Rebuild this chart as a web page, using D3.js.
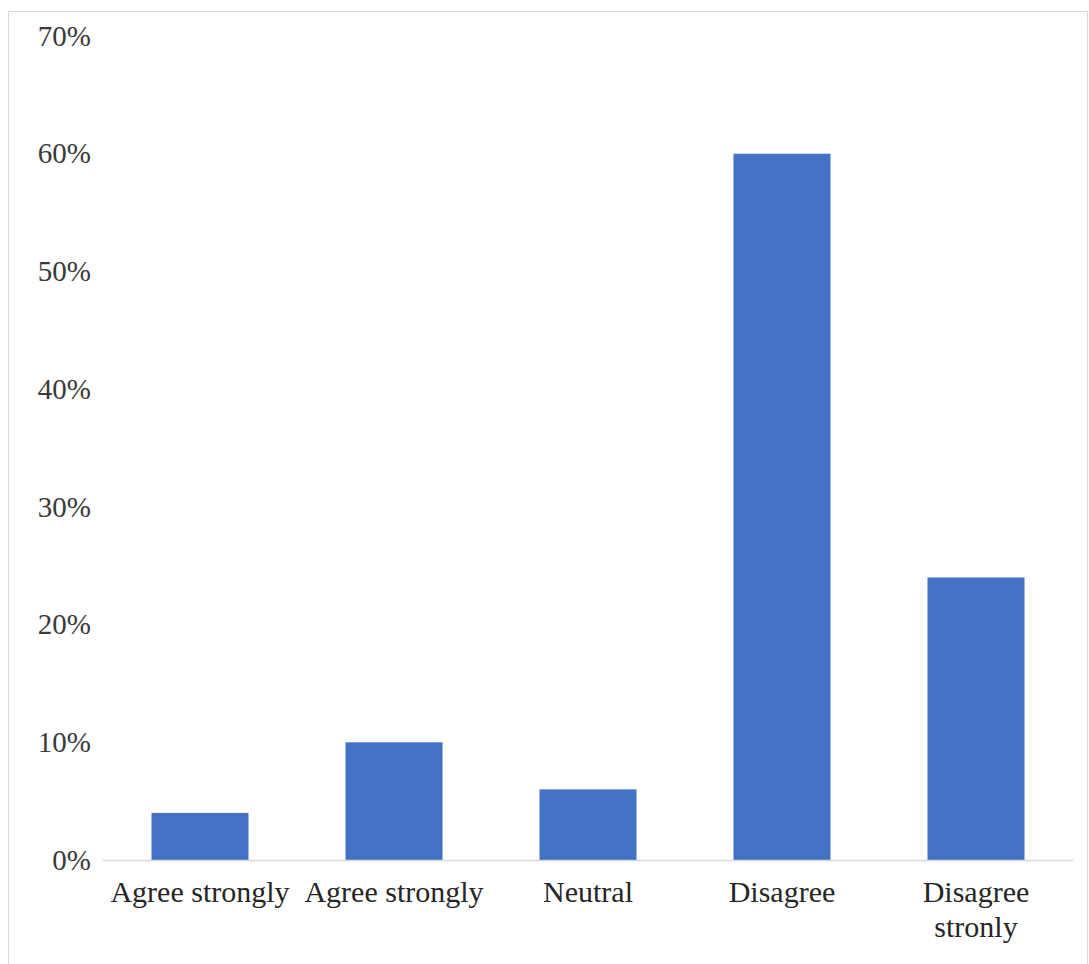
<!DOCTYPE html>
<html><head><meta charset="utf-8">
<script src="https://cdn.jsdelivr.net/npm/d3@7"></script>
<style>body{margin:0;background:#fff}svg{display:block}</style>
</head><body>
<script>
const categories = [["Agree strongly"],["Agree strongly"],["Neutral"],["Disagree"],["Disagree","stronly"]];
const values = [0.04, 0.10, 0.06, 0.60, 0.24];
const yTicks = [0,0.1,0.2,0.3,0.4,0.5,0.6,0.7];

(function(){
const W=1089,H=964;
const svg=d3.select("body").append("svg").attr("width",W).attr("height",H);
svg.append("rect").attr("x",8.5).attr("y",11.5).attr("width",1079).attr("height",960).attr("fill","#fff").attr("stroke","#d9d9d9");
const mL=103,mR=1073,mT=36,mB=860;
const x=d3.scaleBand().domain(d3.range(values.length)).range([mL,mR]).paddingInner(0.5).paddingOuter(0.25);
const y=d3.scaleLinear().domain([0,0.7]).range([mB,mT]);
const font="Liberation Serif, Times New Roman, serif";

svg.selectAll(".bar").data(values).enter().append("rect")
 .attr("x",(d,i)=>x(i)).attr("width",x.bandwidth())
 .attr("y",d=>y(d)).attr("height",d=>y(0)-y(d)).attr("fill","#4472c4");

svg.append("line").attr("x1",mL).attr("x2",mR).attr("y1",y(0)+0.5).attr("y2",y(0)+0.5).attr("stroke","#d9d9d9").attr("stroke-width",1.5);

const ya=svg.append("g").attr("transform",`translate(${91},0)`)
 .call(d3.axisLeft(y).tickValues(yTicks).tickFormat(d3.format(".0%")).tickSize(0).tickPadding(0));
ya.select(".domain").remove();
ya.selectAll("text").attr("font-family",font).attr("font-size",29).attr("fill","#3a3a3a");

const xa=svg.append("g").attr("transform",`translate(0,${y(0)})`)
 .call(d3.axisBottom(x).tickSize(0).tickFormat(""));
xa.select(".domain").remove();
xa.selectAll(".tick").each(function(d){
  const t=d3.select(this).append("text").attr("font-family",font).attr("font-size",30).attr("fill","#262626").attr("text-anchor","middle");
  categories[d].forEach((s,k)=>t.append("tspan").attr("x",0).attr("y",42+k*35).text(s));
});
})();
</script>
</body></html>
